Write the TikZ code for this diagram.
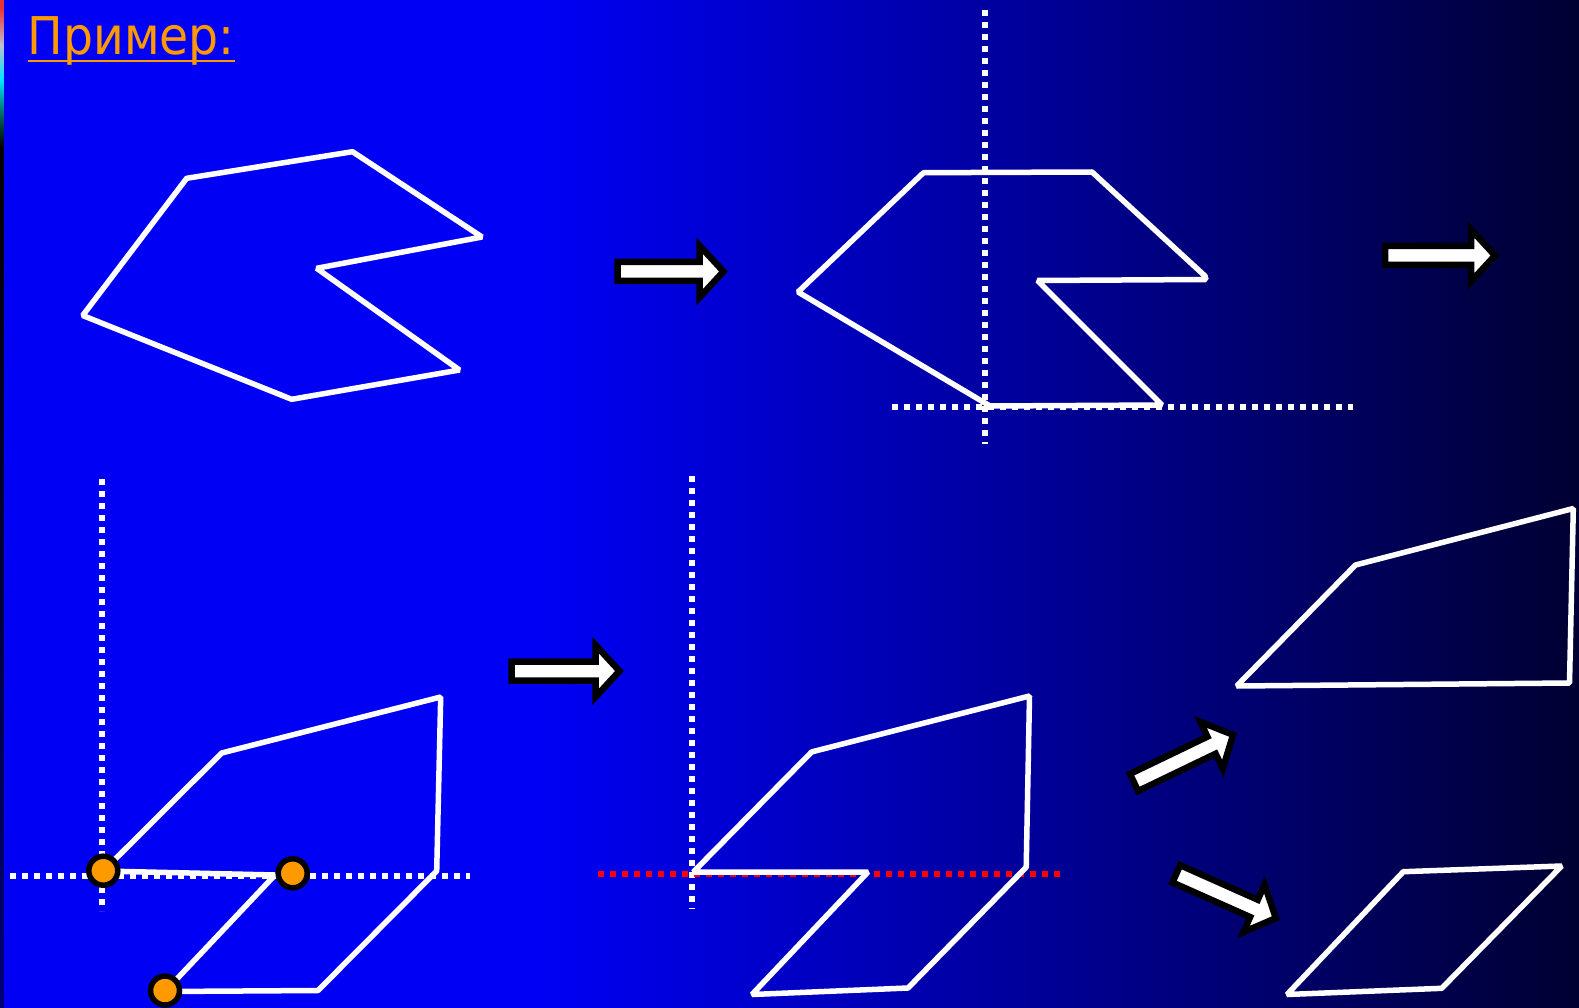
\documentclass[tikz,border=0pt]{standalone}
\usepackage{fontspec}
\setmainfont{DejaVu Sans}
\definecolor{bgA}{RGB}{0,0,245}
\definecolor{bgB}{RGB}{0,0,50}
\definecolor{orng}{RGB}{255,153,0}
\definecolor{stripA}{RGB}{235,50,50}
\definecolor{stripB}{RGB}{190,190,205}
\definecolor{stripC}{RGB}{0,230,255}
\definecolor{stripD}{RGB}{0,90,80}
\definecolor{stripE}{RGB}{0,0,120}
\tikzset{
  poly/.style={draw=white, line width=5.5pt, line join=bevel},
  dots/.style={draw=white, line width=6pt, dash pattern=on 6pt off 6pt},
  reddots/.style={dots, draw=red},
  barrowstyle/.style={fill=white, draw=black, line width=6.5pt, line join=miter},
  vertex/.style={circle, fill=orng, draw=black, line width=5.5pt, minimum size=29pt, inner sep=0pt},
  barrow/.pic={\path[barrowstyle] (0,-9.5) -- (#1-24,-9.5) -- (#1-24,-26) -- (#1,0) -- (#1-24,26) -- (#1-24,9.5) -- (0,9.5) -- cycle;}
}
\begin{document}
\begin{tikzpicture}[x=1pt,y=-1pt]
\useasboundingbox (0,0) rectangle (1579,1008);
% background
\fill[bgA] (0,0) rectangle (541,1008);
\shade[left color=bgA, right color=bgB] (540,0) rectangle (1579,1008);
% left edge strip
\fill[stripA] (0,0) rectangle (3.5,8);
\shade[top color=stripA, bottom color=stripB] (0,8) rectangle (3.5,45);
\shade[top color=stripB, bottom color=stripC] (0,45) rectangle (3.5,80);
\shade[top color=stripC, bottom color=stripD] (0,80) rectangle (3.5,118);
\shade[top color=stripD, bottom color=black] (0,118) rectangle (3.5,148);
\shade[top color=black, bottom color=stripE] (0,148) rectangle (3.5,1008);

% title
\node[anchor=base west, inner sep=0pt, text=orng, font=\fontsize{52}{60}\selectfont, xscale=0.91] (title) at (27.5,54.3) {Пример:};
\draw[orng, line width=2.8pt] (28,61) -- (235,61);

% polygon 1 (original)
\draw[poly] (186.7,178.3) -- (352.5,151.7) -- (482,237) -- (316.7,268.3) -- (459.5,370) -- (291.7,399.3) -- (82.7,315.5) -- cycle;

% polygon 2 with axes
\draw[dots] (984.6,10) -- (984.6,444);
\draw[dots] (891.7,407) -- (1353,407);
\draw[poly] (923.5,172.7) -- (1092,172) -- (1205,276) -- (1206,279.5) -- (1037.5,280.5) -- (1162,405) -- (990,406) -- (798,292) -- cycle;

% polygon 3 with axes and vertices
\draw[dots] (102,479) -- (102,911);
\draw[dots] (10,876) -- (470,876);
\draw[poly] (103.3,871) -- (221.7,753) -- (440.7,697) -- (436.7,871) -- (318,990.5) -- (165,991.5) -- (275,875) -- cycle;
\node[vertex] (v1) at (103.3,870.7) {};
\node[vertex] (v2) at (292.7,873.3) {};
\node[vertex] (v3) at (165,990.5) {};

% polygon 4 with axes
\draw[dots] (691.7,476) -- (691.7,909);
\draw[reddots] (598,873.5) -- (1060,873.5);
\draw[poly] (693.3,872) -- (811.7,751.9) -- (1029.5,696) -- (1026.2,867.2) -- (908,988) -- (752,994.5) -- (868,872) -- cycle;

% right polygons
\draw[poly] (1355.5,565) -- (1573.3,508.5) -- (1569.5,683) -- (1236.7,686) -- cycle;
\draw[poly] (1403.3,871.7) -- (1561.7,866) -- (1441.7,988.3) -- (1287,994.5) -- cycle;

% block arrows
\path (617.5,271.5) pic {barrow=106};
\path (1385,255.5) pic {barrow=110};
\path (511.5,671) pic {barrow=108};
\path (1134,782.5) pic[rotate=25.7] {barrow=110};
\path (1176.3,873.8) pic[rotate=-24] {barrow=109};
\end{tikzpicture}
\end{document}
